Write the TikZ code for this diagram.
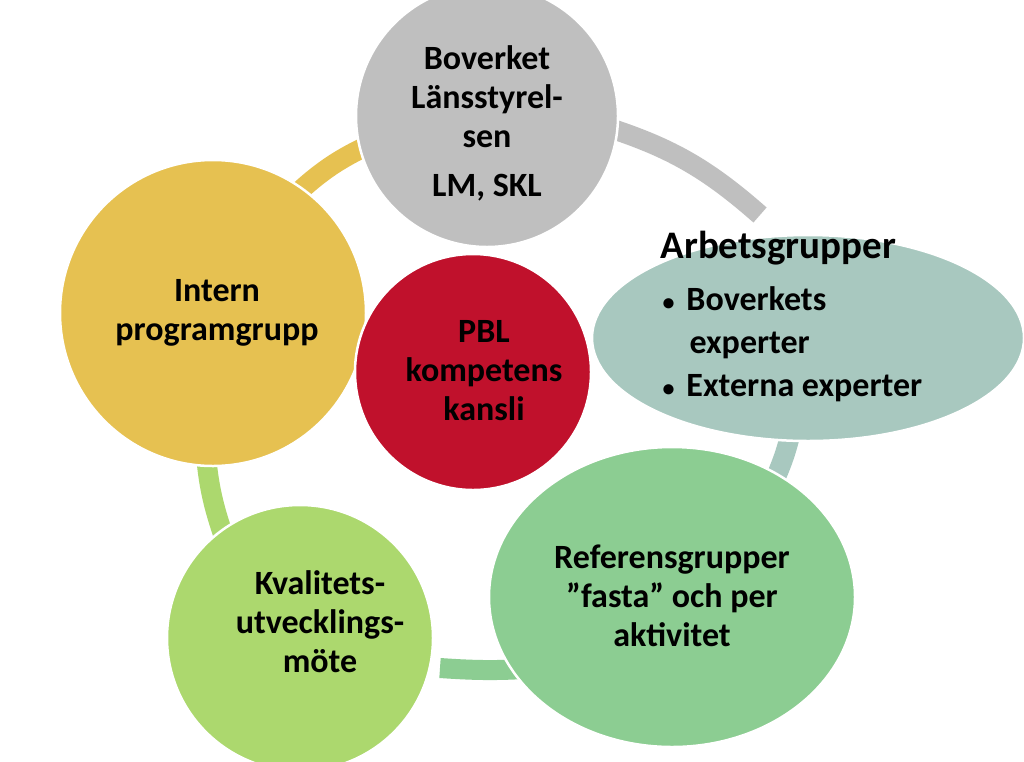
\documentclass[tikz,border=0pt]{standalone}
\usepackage{fontspec}
\setmainfont{Carlito}
\usetikzlibrary{shapes.geometric}
\definecolor{cgray}{HTML}{BFBFBF}
\definecolor{cred}{HTML}{C0112C}
\definecolor{cyel}{HTML}{E6C151}
\definecolor{cteal}{HTML}{A8C8BF}
\definecolor{cgreen}{HTML}{8CCD92}
\definecolor{clgreen}{HTML}{ACD86E}
\begin{document}
\begin{tikzpicture}[x=1pt,y=-1pt,
  blob/.style={ellipse,draw=white,line width=2.5pt,inner sep=0pt},
  lbl/.style={font=\bfseries\fontsize{34}{39}\selectfont,align=center,text=black},
  seg/.style={line width=20pt}]
\useasboundingbox (0,0) rectangle (1024,761);
\fill[white] (0,0) rectangle (1024,761);
% ring segments
\coordinate (y1) at (290,200); \coordinate (y2) at (380,140);
\draw[seg,cyel] (y1) to[bend left=10] (y2);
\coordinate (g1) at (600,125); \coordinate (g2) at (760,215);
\draw[seg,cgray] (g1) to[bend left=12] (g2);
\coordinate (t1) at (795,410); \coordinate (t2) at (770,490);
\draw[seg,cteal] (t1) to[bend left=8] (t2);
\coordinate (n1) at (540,668); \coordinate (n2) at (440,668);
\draw[seg,cgreen] (n1) to[bend left=4] (n2);
\coordinate (l1) at (225,540); \coordinate (l2) at (205,440);
\draw[seg,clgreen] (l1) to[bend left=8] (l2);
% circles
\node[blob,fill=cgray,minimum width=262pt,minimum height=262pt] (top) at (487,116) {};
\node[blob,fill=cyel,minimum width=306pt,minimum height=306pt] (left) at (213,313) {};
\node[blob,fill=cteal,minimum width=432pt,minimum height=206pt] (right) at (808,338) {};
\node[blob,fill=cgreen,minimum width=366pt,minimum height=300pt] (br) at (672,597) {};
\node[blob,fill=clgreen,minimum width=266pt,minimum height=266pt] (bl) at (300,638) {};
\node[blob,fill=cred,minimum width=236pt,minimum height=236pt] (mid) at (473,372) {};
% texts
\node[lbl] (toptxt) at (487,97) {Boverket\\Länsstyrel-\\sen};
\node[lbl] (toptxt2) at (487,188) {LM, SKL};
\node[lbl] (lefttxt) at (217,313) {Intern\\programgrupp};
\node[lbl] (midtxt) at (484,371) {PBL\\kompetens\\kansli};
\node[lbl,font=\bfseries\fontsize{39}{42}\selectfont,anchor=west] (rt) at (657,248) {Arbetsgrupper};
\node[lbl,font=\bfseries\fontsize{34}{43}\selectfont,anchor=north west,align=left] (rb) at (659,283) {{\fontsize{24}{24}\selectfont\textbullet}\hspace{12pt}Boverkets\\\hspace{27pt}experter\\{\fontsize{24}{24}\selectfont\textbullet}\hspace{12pt}Externa experter};
\node[lbl] (brtxt) at (672,596) {Referensgrupper\\”fasta” och per\\aktivitet};
\node[lbl] (bltxt) at (320,622) {Kvalitets-\\utvecklings-\\möte};
\end{tikzpicture}
\end{document}
